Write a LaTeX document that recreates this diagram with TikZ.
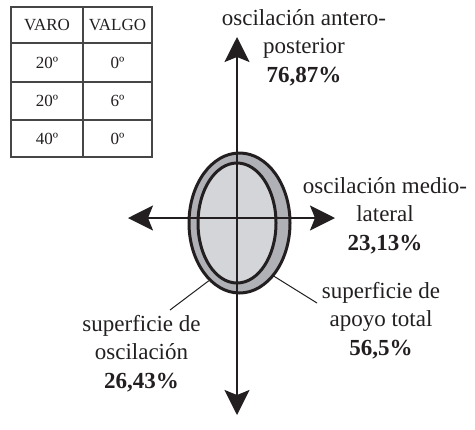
\documentclass[tikz,border=0pt]{standalone}
\usepackage{fontspec}
\setmainfont{Liberation Serif}
\usetikzlibrary{arrows.meta, shapes.geometric}

\definecolor{ringgray}{RGB}{176,177,182}
\definecolor{padgray}{RGB}{212,213,217}
\definecolor{inkblack}{RGB}{35,31,32}
\definecolor{gridgray}{RGB}{70,70,70}

\tikzset{
  axis/.style={line width=1pt, draw=inkblack,
    {Stealth[length=12.5pt,width=12.5pt,inset=2.5pt]}-{Stealth[length=12.5pt,width=12.5pt,inset=2.5pt]}},
  ring/.style={ellipse, draw=inkblack, line width=1.5pt, inner sep=0pt},
  leader/.style={line width=0.5pt, draw=inkblack},
  tag/.style={align=center, text=inkblack, inner sep=0pt,
    font=\fontsize{11.5}{14.25}\selectfont},
  cell/.style={text=inkblack, inner sep=0pt, font=\fontsize{8.5}{10}\selectfont}
}

\begin{document}
\begin{tikzpicture}[x=0.5pt, y=-0.5pt]
    \useasboundingbox (0,0) rectangle (475,429);
    % table
    \draw[gridgray, line width=0.7pt] (11,7) rectangle (152,157);
    \draw[gridgray, line width=0.7pt] (83,7) -- (83,157);
    \foreach \y in {43,82,120}
        \draw[gridgray, line width=0.7pt] (11,\y) -- (152,\y);
    \foreach \y/\varo/\valgo in {25/VARO/VALGO, 62.5/20º/0º, 101/20º/6º, 138.5/40º/0º} {
        \node[cell] (varo\y) at (47,\y) {\varo};
        \node[cell] (valgo\y) at (117.5,\y) {\valgo};
    }
    % support surfaces
    \node[ring, fill=ringgray, minimum width=50.5pt, minimum height=70pt] (outer) at (239.5,223) {};
    \node[ring, fill=padgray, minimum width=39pt, minimum height=60pt] (inner) at (237,223) {};
    % axes
    \coordinate (top) at (237,37);
    \coordinate (bottom) at (237,415);
    \coordinate (west) at (128,218);
    \coordinate (east) at (335,218);
    \draw[axis] (bottom) -- (top);
    \draw[axis] (west) -- (east);
    % labels (anchored at the baseline of the last line)
    \node[tag, anchor=base] (antpost) at (304,82)
        {oscilación antero-\\posterior\\\textbf{76,87\%}};
    \node[tag, anchor=base] (medlat) at (385,250)
        {oscilación medio-\\lateral\\\textbf{23,13\%}};
    \node[tag, anchor=base] (total) at (381,355)
        {superficie de\\apoyo total\\\textbf{56,5\%}};
    \node[tag, anchor=base] (oscil) at (141.5,388)
        {superficie de\\oscilación\\\textbf{26,43\%}};
    % leaders
    \coordinate (oscilfoot) at (170,310);
    \coordinate (totalfoot) at (317,303);
    \draw[leader] (outer.-118) -- (oscilfoot);
    \draw[leader] (outer.-57) -- (totalfoot);
\end{tikzpicture}
\end{document}
